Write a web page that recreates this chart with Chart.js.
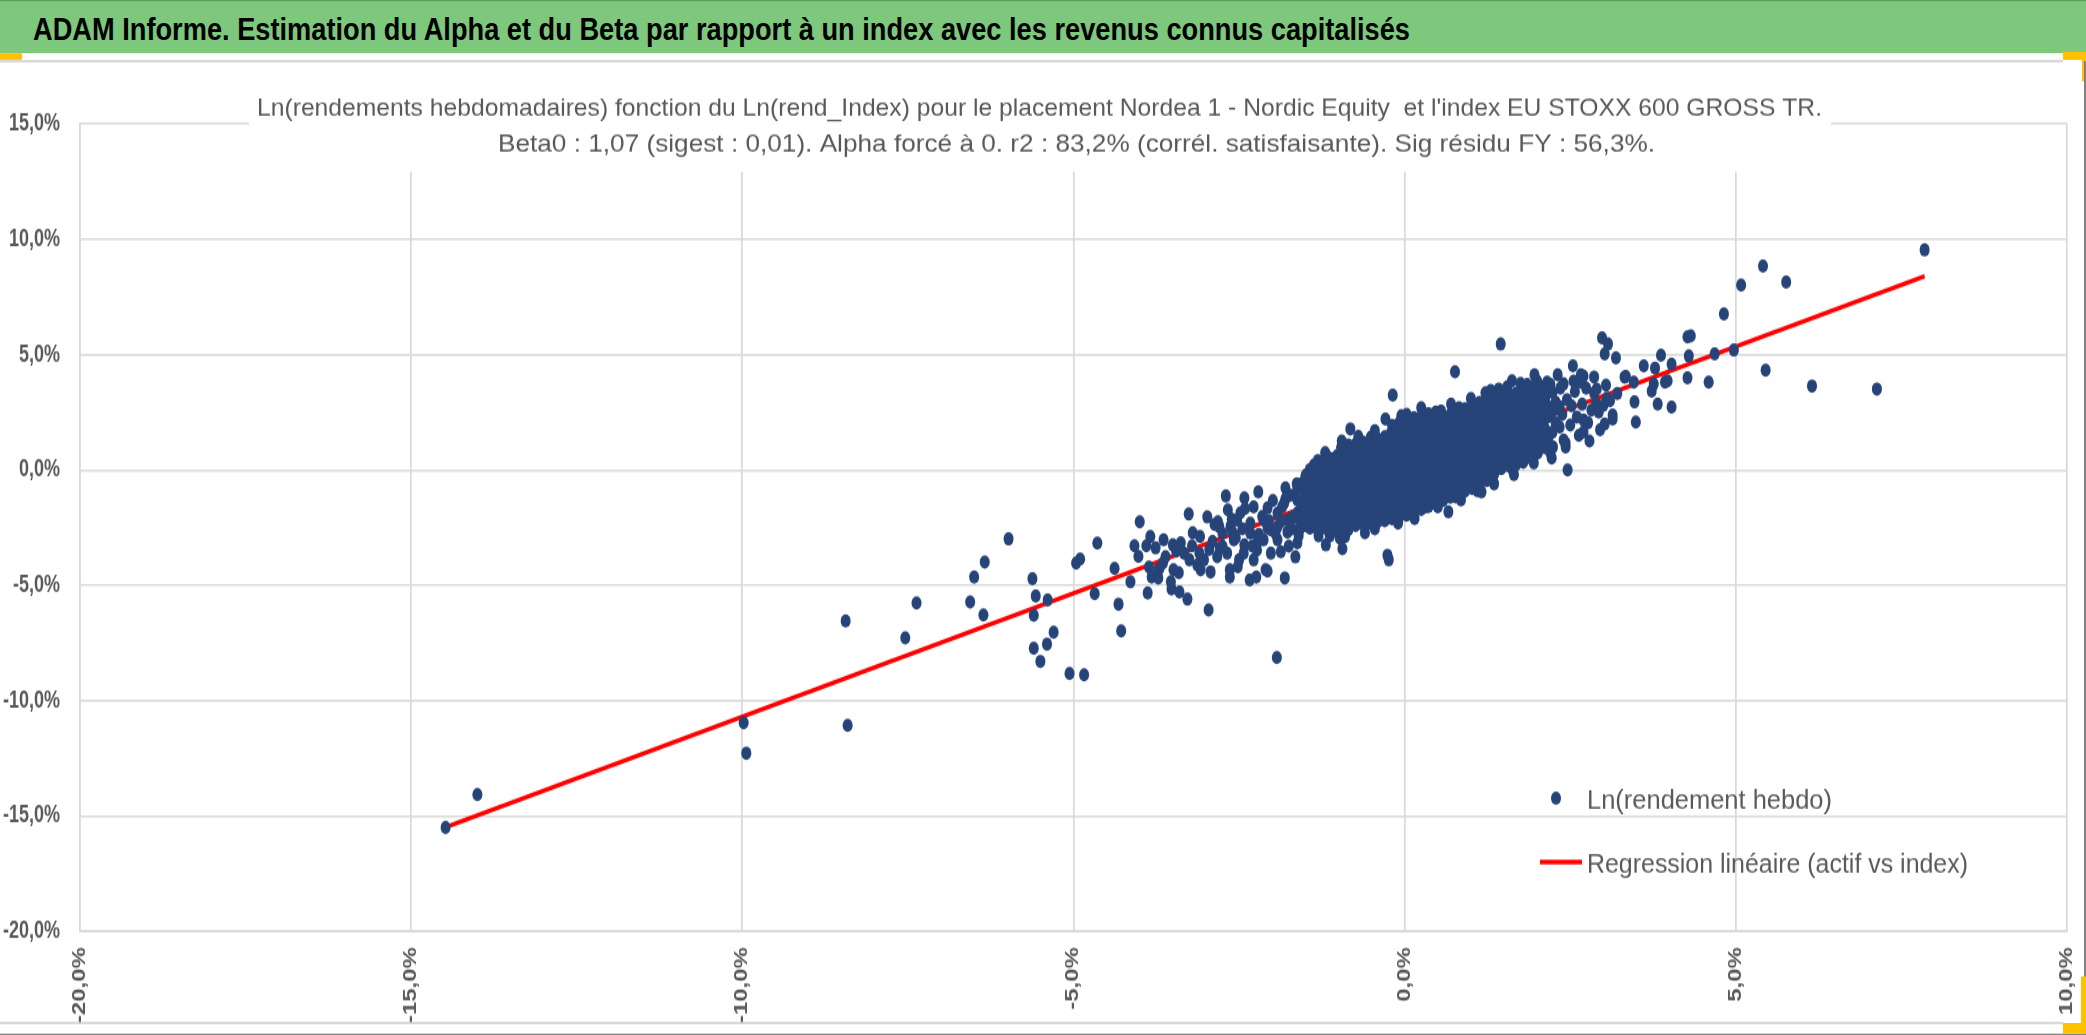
<!DOCTYPE html>
<html lang="fr">
<head>
<meta charset="utf-8">
<title>ADAM Informe - Alpha et Beta</title>
<script src="https://cdn.jsdelivr.net/npm/chart.js@4.4.1/dist/chart.umd.min.js"></script>
<style>
  html, body { margin: 0; padding: 0; background: #fff; overflow: hidden; }
  /* la page d'origine est étirée verticalement : on dessine en 2086x778 puis on étire */
  #page { position: absolute; left: 0; top: 0; width: 2086px; height: 778px;
          transform: scaleY(1.3303); transform-origin: 0 0; background: #fff; }
  #entete { position: absolute; left: 0; top: 0; width: 2086px; height: 40px;
            background: #7ec87e; border-top: 1px solid #609f60; box-sizing: border-box; }
  #entete span { position: absolute; left: 33px; top: 10px; white-space: nowrap;
                 font: bold 23.5px 'Liberation Sans', Arial, sans-serif; line-height: 23.5px; color: #000;
                 transform-origin: 0 0; }
  .deco { position: absolute; }
  .orange { background: #ffc000; }
  #graphique { position: absolute; left: 0; top: 0; }
</style>
</head>
<body>
<div id="page">
  <div id="entete"><span id="texteEntete">ADAM Informe. Estimation du Alpha et du Beta par rapport à un index avec les revenus connus capitalisés</span></div>
  <div class="deco orange" style="left:0;top:40px;width:22px;height:5px"></div>
  <div class="deco orange" style="left:2063px;top:39px;width:23px;height:6px"></div>
  <div class="deco orange" style="left:2082px;top:39px;width:4px;height:22px"></div>
  <div class="deco" style="left:0;top:45px;width:2063px;height:1.8px;background:#d9d9d9"></div>
  <div class="deco" style="left:0;top:768px;width:2063px;height:1.5px;background:#d9d9d9"></div>
  <div class="deco" style="left:2084px;top:46px;width:2px;height:732px;background:#808080"></div>
  <div class="deco" style="left:0;top:776.5px;width:2086px;height:1.5px;background:#808080"></div>
  <div class="deco orange" style="left:2081px;top:734px;width:5px;height:43px"></div>
  <div class="deco orange" style="left:2063px;top:769px;width:23px;height:8px"></div>
  <canvas id="graphique" width="2086" height="778"></canvas>
</div>

<script>
// === Textes ===
const titreLigne1 = "Ln(rendements hebdomadaires) fonction du Ln(rend_Index) pour le placement Nordea 1 - Nordic Equity  et l'index EU STOXX 600 GROSS TR.";
const titreLigne2 = "Beta0 : 1,07 (sigest : 0,01). Alpha forcé à 0. r2 : 83,2% (corrél. satisfaisante). Sig résidu FY : 56,3%.";
const labelPoints = "Ln(rendement hebdo)";
const labelDroite = "Regression linéaire (actif vs index)";

// === Axes (en %) ===
const axeX = [-20, -15, -10, -5, 0, 5, 10];
const axeY = [-20, -15, -10, -5, 0, 5, 10, 15];

// === Droite de régression (x index %, y placement %) ===
const regX = [-14.47, 7.85];
const regY = [-15.48, 8.40];

// === Points dispersés : [rend_Index %, rend placement %] ===
const pointsDisperses = [
  [-14.48,-15.5],[-14.0,-14.07],[-9.98,-10.96],[-9.94,-12.28],[-8.44,-6.55],[-8.41,-11.07],
  [-7.54,-7.28],[-7.37,-5.77],[-6.56,-5.72],[-6.50,-4.64],[-6.36,-6.29],[-6.34,-3.99],[-5.98,-2.99],
  [-5.62,-4.72],[-5.60,-6.30],[-5.60,-7.73],[-5.57,-5.46],[-5.50,-8.30],[-5.40,-7.55],[-5.39,-5.64],
  [-5.30,-7.04],[-5.06,-8.82],[-4.84,-8.88],[-4.96,-4.04],[-4.90,-3.86],[-4.68,-5.36],[-4.64,-3.17],
  [-4.38,-4.27],[-4.32,-5.82],[-4.28,-6.98],[-4.14,-4.85],[-4.08,-3.29],[-4.02,-3.75],[-4.00,-2.25],
  [-3.90,-3.29],[-3.88,-5.33],[-3.86,-4.21],[-3.84,-2.89],[-3.82,-4.64],[-3.76,-3.38],[-3.72,-4.33],
  [-3.72,-4.68],[-3.70,-4.25],[-3.65,-4.04],[-3.64,-3.03],[-3.61,-3.76],[-3.53,-4.84],[-3.52,-5.16],
  [-3.50,-3.25],[-3.49,-4.33],[-3.45,-3.52],[-3.41,-4.46],[-3.40,-5.29],[-3.38,-3.16],[-3.33,-3.61],
  [-3.28,-5.60],[-3.26,-1.91],[-3.25,-3.90],[-3.21,-3.29],[-3.20,-2.73],[-3.13,-4.12],[-3.10,-3.60],
  [-3.09,-2.88],[-3.08,-4.33],[-3.03,-3.90],[-2.98,-2.04],[-2.96,-6.07],[-2.95,-3.45],[-2.93,-4.42],
  [-2.90,-3.10],[-2.87,-2.36],[-2.83,-3.76],[-2.82,-2.25],[-2.80,-2.46],[-2.79,-3.40],[-2.75,-3.32],
  [-2.75,-2.75],[-2.70,-1.13],[-2.68,-3.61],[-2.67,-1.73],[-2.64,-4.33],[-2.64,-4.64],[-2.63,-2.46],
  [-2.61,-2.13],[-2.60,-2.70],[-2.58,-3.03],[-2.55,-2.94],[-2.53,-2.17],[-2.52,-4.20],[-2.50,-3.90],
  [-2.48,-1.86],[-2.45,-2.55],[-2.43,-3.61],[-2.42,-1.21],[-2.42,-3.25],[-2.41,-1.67],[-2.34,-4.77],
  [-2.33,-2.31],[-2.33,-2.74],[-2.30,-3.30],[-2.28,-3.90],[-2.28,-1.60],[-2.24,-4.64],[-2.23,-3.47],
  [-2.22,-3.12],[-2.21,-0.95],[-2.20,-2.80],[-2.15,-2.02],[-2.13,-2.17],[-2.13,-3.03],[-2.10,-4.33],
  [-2.07,-1.65],[-2.07,-2.51],[-2.07,-4.38],[-2.05,-2.20],[-2.02,-2.60],[-2.02,-3.61],[-1.99,-1.33],
  [-1.95,-2.75],[-1.93,-8.13],[-1.92,-3.03],[-1.92,-1.88],[-1.92,-2.46],[-1.87,-3.55],[-1.87,-2.25],
  [-1.85,-1.60],[-1.82,-1.44],[-1.81,-4.68],[-1.80,-0.78],[-1.80,-1.25],[-1.77,-2.69],[-1.77,-2.17],
  [-1.75,-3.30],[-1.73,-1.10],[-1.70,-2.55],[-1.69,-2.02],[-1.65,-3.77],[-1.63,-0.61],[-1.62,-3.16],
  [-1.62,-1.86],[-1.62,-1.30],[-1.60,-2.85],[-1.57,-2.51],[-1.55,-0.69],[-1.50,-0.30],[-1.47,-1.16],
  [-1.45,-1.56],[-1.42,-2.38],[-1.42,-0.72],[-1.37,-0.12],[-1.33,-0.98],[-1.31,0.26],[-1.30,-2.85],
  [-1.22,-2.47],[-1.22,-0.43],[-1.20,0.75],[-1.19,-3.25],[-1.16,0.56],[-1.13,-2.86],[-1.04,-0.14],
  [-1.01,-2.30],[-0.98,-2.95],[-0.95,1.25],[-0.94,-3.42],[-0.94,0.52],[-0.90,-2.90],[-0.87,0.14],
  [-0.85,-2.60],[-0.82,1.78],[-0.76,0.87],[-0.71,-2.25],[-0.70,1.45],[-0.61,0.72],[-0.60,-2.73],
  [-0.56,-1.73],[-0.51,1.43],[-0.45,1.70],[-0.45,-2.55],[-0.41,1.01],[-0.36,-1.43],[-0.32,1.30],
  [-0.29,2.21],[-0.26,-3.70],[-0.24,-3.90],[-0.21,1.59],[-0.18,3.25],[-0.18,1.65],[-0.17,-1.60],
  [-0.11,0.87],[-0.10,-2.30],[-0.05,2.35],[0.00,-1.86],[0.05,2.25],[0.09,-0.56],[0.15,-2.10],
  [0.20,-1.00],[0.25,2.70],[0.32,-1.60],[0.44,2.34],[0.50,-1.60],[0.55,2.55],[0.59,-1.17],
  [0.66,-1.82],[0.70,2.85],[0.76,4.25],[0.77,-1.17],[0.82,2.69],[0.85,-1.30],[0.88,-0.74],
  [1.00,3.10],[1.10,2.86],[1.10,-0.90],[1.16,-0.95],[1.22,3.34],[1.24,3.29],[1.25,0.09],[1.30,3.45],
  [1.35,-0.60],[1.42,3.51],[1.45,0.09],[1.45,5.46],[1.55,3.60],[1.62,3.86],[1.63,0.00],[1.65,-0.20],
  [1.75,3.75],[1.85,3.70],[1.87,3.38],[1.95,0.30],[1.96,4.12],[1.96,3.64],[2.00,3.85],[2.05,3.60],
  [2.15,3.81],[2.20,3.70],[2.20,0.75],[2.22,0.52],[2.24,1.00],[2.31,4.12],[2.35,3.55],[2.38,2.41],
  [2.40,3.73],[2.40,1.30],[2.43,1.00],[2.43,1.17],[2.45,3.05],[2.46,0.00],[2.50,1.95],[2.52,2.78],
  [2.54,4.51],[2.55,3.85],[2.57,3.40],[2.60,2.30],[2.63,1.50],[2.66,3.81],[2.66,4.12],[2.68,2.85],
  [2.70,4.07],[2.70,2.17],[2.70,1.65],[2.74,3.55],[2.77,2.05],[2.79,1.26],[2.82,2.60],[2.86,3.34],
  [2.86,4.03],[2.89,2.90],[2.90,3.50],[2.93,2.51],[2.95,1.75],[2.98,5.72],[3.00,2.80],[3.02,5.03],
  [3.02,1.99],[3.04,3.68],[3.05,3.12],[3.07,5.46],[3.10,3.00],[3.14,2.38],[3.14,2.21],[3.19,4.86],
  [3.21,3.32],[3.32,4.03],[3.34,4.05],[3.46,3.81],[3.47,2.95],[3.49,2.08],[3.61,4.51],[3.73,3.42],
  [3.76,3.73],[3.78,4.42],[3.82,2.86],[3.87,4.98],[3.93,3.81],[3.97,3.86],[4.03,4.59],[4.03,2.73],
  [4.27,3.99],[4.27,5.77],[4.29,4.94],[4.32,5.81],[4.59,3.81],[4.68,5.03],[4.82,6.76],[4.97,5.20],
  [5.08,8.02],[5.41,8.84],[5.45,4.33],[5.76,8.15],[6.15,3.64],[7.13,3.51],[7.85,9.54]
];

// === Nuage dense central : abscisses des colonnes et ordonnées lues dans chaque colonne ===
const noyauX = [
  -1.62,-1.56,-1.49,-1.43,-1.37,-1.31,-1.25,-1.19,-1.13,-1.08,-1.02,-0.96,-0.91,-0.85,-0.80,-0.74,
  -0.69,-0.63,-0.58,-0.52,-0.47,-0.41,-0.36,-0.30,-0.25,-0.19,-0.14,-0.08,-0.03,0.03,0.08,0.14,
  0.19,0.25,0.30,0.36,0.41,0.47,0.52,0.58,0.63,0.69,0.74,0.80,0.85,0.91,0.96,1.02,1.07,1.13,
  1.18,1.24,1.29,1.35,1.40,1.46,1.51,1.57,1.62,1.68,1.73,1.79,1.84,1.90,1.95,2.01,2.06,2.12,
  2.17,2.23,2.28,2.34
];
const noyauY = [
  [-2.08,-1.27,-0.83],
  [-2.31,-1.48,-0.61],
  [-2.41,-1.93,-1.06,-0.68,-0.22],
  [-2.52,-2.14,-1.71,-1.27,-0.85,-0.41,0.02],
  [-2.33,-1.88,-1.47,-0.98,-0.57,-0.14,0.21],
  [-2.61,-2.12,-1.69,-1.24,-0.79,-0.36,0.07,0.41],
  [-2.46,-2.02,-1.58,-1.13,-0.71,-0.28,0.12],
  [-2.54,-2.23,-1.81,-1.36,-0.92,-0.49,-0.08,0.33],
  [-2.29,-1.84,-1.41,-0.93,-0.52,-0.04,0.38],
  [-2.63,-2.18,-1.74,-1.30,-0.86,-0.41,0.06,0.49],
  [-2.42,-1.97,-1.53,-1.12,-0.63,-0.19,0.27,0.62],
  [-2.58,-2.14,-1.69,-1.25,-0.80,-0.35,0.11,0.55,0.96],
  [-2.36,-1.91,-1.44,-1.02,-0.56,-0.11,0.33,0.77],
  [-2.49,-2.06,-1.62,-1.17,-0.72,-0.27,0.18,0.62,1.08],
  [-2.27,-1.83,-1.39,-0.94,-0.48,-0.06,0.41,0.86],
  [-2.41,-2.04,-1.60,-1.15,-0.70,-0.26,0.21,0.66,1.13],
  [-2.18,-1.76,-1.31,-0.87,-0.39,0.04,0.48,0.94],
  [-2.36,-1.97,-1.53,-1.09,-0.62,-0.18,0.27,0.72,1.21],
  [-2.09,-1.63,-1.21,-0.73,-0.31,0.16,0.61,1.03],
  [-2.31,-1.86,-1.42,-0.97,-0.52,-0.07,0.38,0.84,1.29],
  [-2.04,-1.59,-1.14,-0.69,-0.24,0.21,0.66,1.12],
  [-2.26,-1.81,-1.37,-0.92,-0.46,-0.02,0.44,0.89,1.36],
  [-1.96,-1.51,-1.06,-0.61,-0.16,0.29,0.74,1.19],
  [-2.21,-1.74,-1.29,-0.83,-0.38,0.07,0.52,0.97,1.44],
  [-1.88,-1.44,-0.99,-0.56,-0.09,0.36,0.81,1.27],
  [-2.12,-1.66,-1.21,-0.77,-0.31,0.14,0.59,1.06,1.52,1.93],
  [-1.79,-1.36,-0.91,-0.44,0.01,0.46,0.89,1.34,1.71],
  [-2.04,-1.57,-1.13,-0.68,-0.22,0.23,0.68,1.14,1.58,2.06],
  [-1.74,-1.28,-0.84,-0.41,0.06,0.49,0.96,1.41,1.86],
  [-1.96,-1.51,-1.06,-0.62,-0.16,0.28,0.73,1.19,1.64,2.11,2.41],
  [-1.61,-1.16,-0.71,-0.26,0.19,0.64,1.11,1.54,1.98],
  [-1.84,-1.39,-0.94,-0.48,-0.03,0.42,0.87,1.33,1.77,2.26],
  [-1.47,-1.02,-0.54,-0.11,0.36,0.79,1.26,1.69,2.08],
  [-1.71,-1.26,-0.79,-0.33,0.12,0.57,1.02,1.47,1.92,2.34],
  [-1.33,-0.89,-0.46,0.02,0.44,0.91,1.34,1.79,2.14],
  [-1.58,-1.12,-0.67,-0.21,0.24,0.69,1.14,1.58,2.03,2.44],
  [-1.21,-0.76,-0.29,0.14,0.61,1.04,1.51,1.94,2.22],
  [-1.46,-0.99,-0.54,-0.08,0.37,0.82,1.27,1.73,2.16,2.51],
  [-1.08,-0.64,-0.21,0.26,0.69,1.16,1.59,2.04],
  [-1.33,-0.87,-0.42,0.04,0.49,0.94,1.39,1.83,2.27],
  [-0.96,-0.51,-0.04,0.39,0.86,1.29,1.76,2.19],
  [-1.18,-0.73,-0.28,0.17,0.62,1.07,1.52,1.97,2.41],
  [-0.86,-0.39,0.06,0.51,0.94,1.41,1.84,2.28],
  [-1.06,-0.61,-0.16,0.29,0.74,1.19,1.64,2.09,2.53],
  [-0.74,-0.31,0.16,0.59,1.06,1.49,1.96,2.34],
  [-0.92,-0.47,-0.02,0.43,0.88,1.33,1.78,2.22,2.66],
  [-0.61,-0.14,0.29,0.76,1.19,1.66,2.09,2.48],
  [-0.81,-0.36,0.09,0.54,0.99,1.44,1.89,2.34,2.78],
  [-0.44,0.01,0.46,0.89,1.36,1.79,2.26,2.63],
  [-0.63,-0.19,0.26,0.71,1.16,1.61,2.06,2.51,2.93],
  [-0.26,0.21,0.64,1.11,1.54,2.01,2.44,2.79],
  [-0.46,-0.02,0.43,0.88,1.33,1.78,2.23,2.66,3.07],
  [0.02,0.44,0.91,1.34,1.81,2.24,2.69,2.98],
  [-0.19,0.24,0.69,1.14,1.59,2.04,2.49,2.93,3.26],
  [0.24,0.71,1.14,1.61,2.04,2.51,2.89,3.14],
  [0.06,0.49,0.94,1.39,1.84,2.29,2.74,3.18,3.41],
  [0.36,0.79,1.26,1.69,2.16,2.59,3.04],
  [0.18,0.58,1.03,1.48,1.93,2.38,2.83,3.27],
  [0.41,0.86,1.29,1.76,2.19,2.66,3.09],
  [0.22,0.64,1.09,1.54,1.99,2.44,2.89,3.33],
  [0.51,0.94,1.41,1.84,2.31,2.74,3.19],
  [0.33,0.73,1.18,1.63,2.08,2.53,2.98,3.42],
  [0.69,1.16,1.59,2.06,2.49,2.96,3.28],
  [0.52,0.93,1.38,1.83,2.28,2.73,3.18,3.46],
  [0.91,1.34,1.81,2.24,2.71,3.14],
  [0.74,1.14,1.59,2.04,2.49,2.94,3.39],
  [1.09,1.56,1.99,2.46,2.89,3.24],
  [0.96,1.36,1.79,2.24,2.69,3.12,3.44],
  [1.41,2.31,2.74],
  [1.63,2.52,3.36],
  [2.04,2.94],
  [1.86,2.74]
];

// === Construction des jeux de données ===
const pointsHebdo = pointsDisperses.map(p => ({ x: p[0], y: p[1] }));
noyauX.forEach((x, i) => {
  noyauY[i].forEach(y => pointsHebdo.push({ x: x, y: y }));
});
const droiteRegression = regX.map((x, i) => ({ x: x, y: regY[i] }));

const POLICE = "'Liberation Sans', Arial, sans-serif";
const GRIS_TEXTE = "#595959";
const GRIS_GRILLE = "#d9d9d9";
const BLEU_POINTS = "#264478";
const RAYON_POINT = 5;

function formatPct(v) {
  return v.toFixed(1).replace(".", ",") + "%";
}

// bandeau : même largeur que l'original (police plus étroite)
const spanEntete = document.getElementById("texteEntete");
spanEntete.style.transform = "scaleX(" + (1377 / spanEntete.getBoundingClientRect().width) + ")";

// écrit un texte en l'ajustant à une largeur donnée
function texteAjuste(c, texte, x, ligneBase, largeur) {
  const w = c.measureText(texte).width;
  c.save();
  c.translate(x, ligneBase);
  c.scale(largeur / w, 1);
  c.fillText(texte, 0, 0);
  c.restore();
}

// Titre du graphique posé sur la zone de traçage (fond blanc)
const pluginTitre = {
  id: "titreExcel",
  afterDraw(chart) {
    const c = chart.ctx;
    c.save();
    c.fillStyle = "#fff";
    c.fillRect(249, 58, 1582, 71);
    c.fillStyle = GRIS_TEXTE;
    c.textAlign = "left";
    c.textBaseline = "alphabetic";
    c.font = "19px " + POLICE;
    texteAjuste(c, titreLigne1, 257, 87.2, 1565);
    texteAjuste(c, titreLigne2, 498, 114.3, 1157);
    c.restore();
  }
};

// Légende à l'intérieur de la zone de traçage, en bas à droite
const pluginLegende = {
  id: "legendeExcel",
  afterDraw(chart) {
    const c = chart.ctx;
    const ds0 = chart.data.datasets[0];
    const ds1 = chart.data.datasets[1];
    c.save();
    c.fillStyle = ds0.backgroundColor;
    c.beginPath();
    c.arc(1556, 600, RAYON_POINT, 0, Math.PI * 2);
    c.fill();
    c.strokeStyle = ds1.borderColor;
    c.lineWidth = ds1.borderWidth;
    c.beginPath();
    c.moveTo(1540, 648);
    c.lineTo(1582, 648);
    c.stroke();
    c.fillStyle = GRIS_TEXTE;
    c.font = "20px " + POLICE;
    c.textAlign = "left";
    c.textBaseline = "alphabetic";
    texteAjuste(c, ds0.label, 1587, 607.5, 245);
    texteAjuste(c, ds1.label, 1587, 655.5, 381);
    c.restore();
  }
};

new Chart(document.getElementById("graphique"), {
  type: "scatter",
  data: {
    datasets: [
      {
        label: labelPoints,
        data: pointsHebdo,
        backgroundColor: BLEU_POINTS,
        borderColor: BLEU_POINTS,
        pointRadius: RAYON_POINT,
        pointHoverRadius: RAYON_POINT,
        pointBorderWidth: 0,
        order: 0
      },
      {
        type: "line",
        label: labelDroite,
        data: droiteRegression,
        borderColor: "#ff0000",
        borderWidth: 3.5,
        pointRadius: 0,
        fill: false,
        order: 1
      }
    ]
  },
  plugins: [pluginTitre, pluginLegende],
  options: {
    responsive: false,
    animation: false,
    devicePixelRatio: 1,
    layout: { padding: { top: 93.2, right: 19, bottom: 0, left: 0 } },
    plugins: {
      legend: { display: false },
      title: { display: false },
      tooltip: { enabled: false }
    },
    scales: {
      x: {
        type: "linear",
        min: axeX[0],
        max: axeX[axeX.length - 1],
        afterBuildTicks(s) { s.ticks = axeX.map(v => ({ value: v })); },
        afterFit(s) { s.height = 78; s.paddingLeft = 0; s.paddingRight = 0; },
        ticks: {
          autoSkip: false,
          minRotation: 90,
          maxRotation: 90,
          padding: 12,
          color: GRIS_TEXTE,
          font: { family: POLICE, size: 18, weight: "bold" },
          callback: v => formatPct(v)
        },
        grid: { color: GRIS_GRILLE, lineWidth: 1.7, drawTicks: false },
        border: { color: GRIS_GRILLE, width: 1.7 }
      },
      y: {
        type: "linear",
        min: axeY[0],
        max: axeY[axeY.length - 1],
        afterBuildTicks(s) { s.ticks = axeY.map(v => ({ value: v })); },
        afterFit(s) { s.width = 80; s.paddingTop = 0; s.paddingBottom = 0; },
        ticks: {
          padding: 20,
          color: GRIS_TEXTE,
          font: { family: POLICE, size: 18, weight: "bold" },
          callback: v => formatPct(v)
        },
        grid: { color: GRIS_GRILLE, lineWidth: 1.5, drawTicks: false },
        border: { color: GRIS_GRILLE, width: 1.5 }
      }
    }
  }
});
</script>
</body>
</html>
